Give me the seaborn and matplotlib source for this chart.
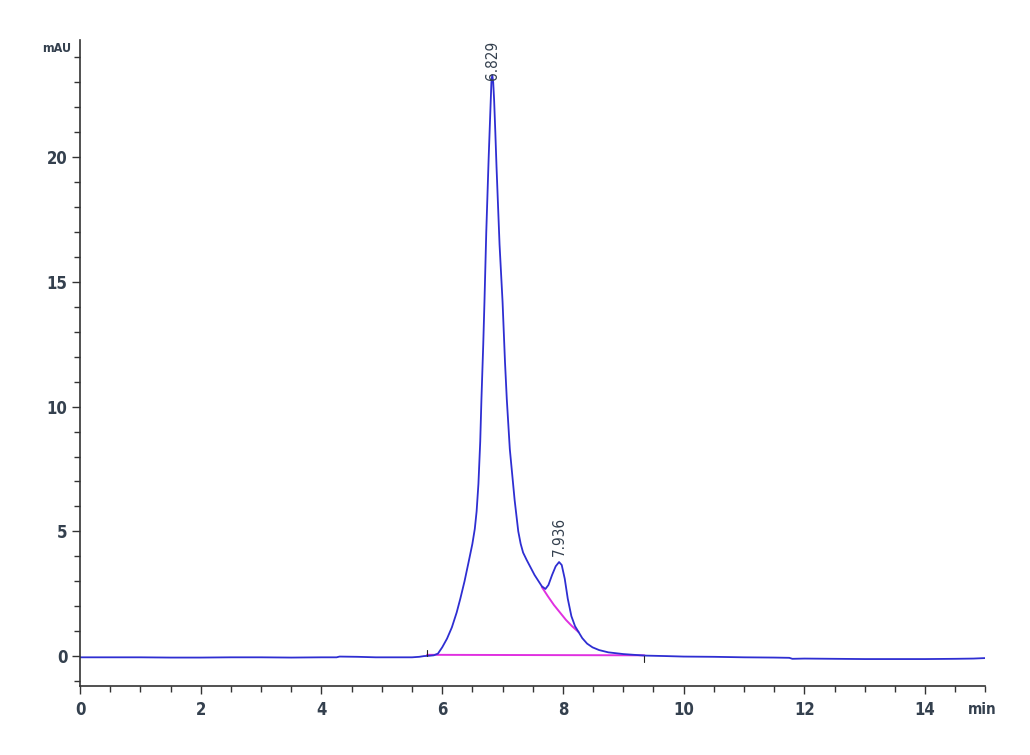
import matplotlib
matplotlib.use("Agg")
import matplotlib.pyplot as plt
import seaborn as sns
import pandas as pd
from matplotlib.ticker import MultipleLocator

# ---- data ----
time_min = [0.0, 0.5, 1.0, 1.5, 2.0, 2.5, 3.0, 3.5, 4.0, 4.25, 4.3, 4.6, 4.9, 5.0, 5.5, 5.62,
            5.7, 5.78, 5.86, 5.93, 6.0, 6.08, 6.16, 6.24, 6.30, 6.37, 6.44, 6.50, 6.54, 6.57,
            6.60, 6.63, 6.65, 6.68, 6.70, 6.73, 6.77, 6.80, 6.815, 6.829, 6.845, 6.86, 6.88,
            6.90, 6.95, 7.00, 7.04, 7.07, 7.12, 7.20, 7.26, 7.30, 7.34, 7.40, 7.53, 7.65, 7.71,
            7.76, 7.82, 7.88, 7.936, 7.98, 8.03, 8.08, 8.14, 8.20, 8.26, 8.32, 8.40, 8.49, 8.6,
            8.75, 9.0, 9.35, 9.7, 10.0, 10.5, 11.0, 11.5, 11.75, 11.8, 12.0, 12.5, 13.0, 13.5,
            14.0, 14.5, 14.8, 15.0]
signal_mau = [-0.05, -0.05, -0.05, -0.06, -0.06, -0.05, -0.05, -0.06, -0.05, -0.05, -0.02, -0.03,
              -0.05, -0.05, -0.05, -0.03, 0.0, 0.01, 0.03, 0.1, 0.35, 0.7, 1.15, 1.75, 2.3,
              3.0, 3.8, 4.5, 5.1, 5.8, 6.9, 8.6, 10.3, 12.5, 14.2, 17.0, 20.0, 22.0, 23.0,
              23.3, 23.0, 22.3, 21.0, 19.6, 16.5, 14.2, 11.8, 10.3, 8.3, 6.25, 5.0, 4.5,
              4.15, 3.85, 3.25, 2.8, 2.69, 2.85, 3.25, 3.6, 3.77, 3.65, 3.1, 2.3, 1.6, 1.2,
              0.96, 0.72, 0.5, 0.35, 0.24, 0.15, 0.08, 0.02, 0.0, -0.02, -0.03, -0.05, -0.06,
              -0.07, -0.11, -0.1, -0.11, -0.12, -0.12, -0.12, -0.11, -0.1, -0.08]

baseline_time = [5.75, 9.35]
baseline_mau = [0.05, 0.03]

skim_time = [7.65, 7.75, 7.85, 7.95, 8.05, 8.15, 8.26]
skim_mau = [2.77, 2.4, 2.05, 1.75, 1.45, 1.2, 0.96]

peak_rt = [6.829, 7.936]
peak_height = [23.3, 3.77]
peak_labels = ["6.829", "7.936"]

event_marks = [5.75, 9.35]

x_ticks = [0, 2, 4, 6, 8, 10, 12, 14]
y_ticks = [0, 5, 10, 15, 20]

# ---- style ----
sns.set_theme(style="ticks")
plt.rcParams["font.family"] = ["DejaVu Sans", "Liberation Sans"]
plt.rcParams["font.stretch"] = "condensed"
text_col = "#34404e"

fig = plt.figure(figsize=(10.3, 7.55), dpi=100)
ax = fig.add_axes([80 / 1030, 1 - 686 / 755, (985.5 - 80) / 1030, (686 - 40) / 755])

trace = pd.DataFrame({"t": time_min, "s": signal_mau})
base = pd.DataFrame({"t": baseline_time, "s": baseline_mau})
skim = pd.DataFrame({"t": skim_time, "s": skim_mau})

sns.lineplot(data=base, x="t", y="s", ax=ax, color="#e030e0", lw=1.4, sort=False)
sns.lineplot(data=skim, x="t", y="s", ax=ax, color="#e030e0", lw=1.4, sort=False)
sns.lineplot(data=trace, x="t", y="s", ax=ax, color="#2e2ed2", lw=1.3, sort=False)

for t in event_marks:
    ax.plot([t, t], [0.0, 0.25 if t < 8 else -0.25], color="#222222", lw=0.8)

label_offset = [-0.2, 0.25]
for rt, h, lab, off in zip(peak_rt, peak_height, peak_labels, label_offset):
    ax.text(rt, h + off, lab, rotation=90, ha="center", va="bottom",
            fontsize=11, color=text_col)

ax.set_xlim(0, 15)
ax.set_ylim(-1.2, 24.7)
ax.set_xticks(x_ticks)
ax.set_yticks(y_ticks)
ax.xaxis.set_minor_locator(MultipleLocator(0.5))
ax.yaxis.set_minor_locator(MultipleLocator(1))
ax.tick_params(axis="both", which="major", length=6, width=1.0, color="#333333",
               labelsize=12, labelcolor=text_col)
ax.tick_params(axis="y", which="major", pad=3)
ax.tick_params(axis="x", which="major", pad=5)
ax.tick_params(axis="both", which="minor", length=4, width=1.0, color="#333333")
for lab in ax.get_xticklabels() + ax.get_yticklabels():
    lab.set_fontweight("bold")
ax.set_xlabel("")
ax.set_ylabel("")
sns.despine(ax=ax)
for sp in ("left", "bottom"):
    ax.spines[sp].set_color("#333333")
    ax.spines[sp].set_linewidth(1.2)

fig.text(42 / 1030, 1 - 48 / 755, "mAU", fontsize=9, color=text_col, ha="left", va="center",
         fontweight="bold")
fig.text(968 / 1030, 1 - 710 / 755, "min", fontsize=11, color=text_col, ha="left", va="center",
         fontweight="bold")

fig.savefig("out.png", dpi=100, facecolor="white")
